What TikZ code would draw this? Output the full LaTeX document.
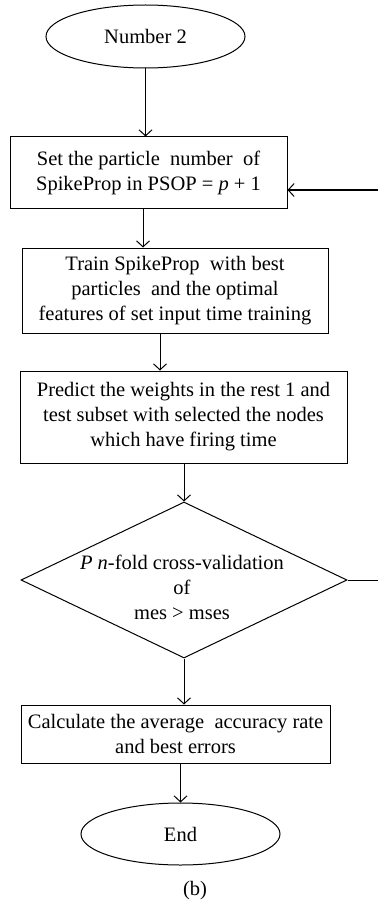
\documentclass[tikz,border=0pt]{standalone}
\usepackage{fontspec}
\setmainfont{Liberation Serif}
\usetikzlibrary{shapes.geometric,arrows.meta}
\begin{document}
\begin{tikzpicture}[x=1pt,y=-1pt,
  every node/.style={font=\fontsize{20.5}{25}\selectfont},
  box/.style={draw,line width=1pt,rectangle,inner sep=0pt,align=center},
  oval/.style={draw,line width=1pt,ellipse,inner sep=0pt},
  arr/.style={line width=1pt,-{Straight Barb[length=6pt,width=13pt]}},
  conn/.style={line width=1pt}]
\useasboundingbox (0,0) rectangle (378,904);
\node[oval,minimum width=199,minimum height=63] (start) at (145.5,36.5) {Number 2};
\node[box,minimum width=277,minimum height=71] (b1) at (148.5,172.5) {Set the particle\ \ number\ \ of\\SpikeProp in PSOP = \textit{p} + 1};
\node[box,minimum width=306,minimum height=85] (b2) at (175,290.5) {Train SpikeProp\ \ with best\\particles\ \ and the optimal\\features of set input time training};
\node[box,minimum width=327,minimum height=92] (b3) at (183.5,417) {Predict the weights in the rest 1 and\\test subset with selected the nodes\\which have firing time};
\node[draw,diamond,line width=1pt,minimum width=326,minimum height=156,inner sep=0pt] (dia) at (184,580) {};
\node[align=center] (dtext) at (182,587) {\textit{P n}-fold cross-validation\\of\\mes > mses};
\node[box,minimum width=309,minimum height=58] (b4) at (175.5,734) {Calculate the average\ \ accuracy rate\\and best errors};
\node[oval,minimum width=199,minimum height=62] (end) at (180.5,834) {End};
\node (cap) at (195,891) {(b)};
\coordinate (fbin) at (378,190);
\coordinate (fbout) at (378,580);
\draw[arr] (start.south) -- (start.south |- b1.north);
\draw[arr] ([xshift=-5.5pt]b1.south) -- ([xshift=-5.5pt]b1.south |- b2.north);
\draw[arr] ([xshift=-15pt]b2.south) -- ([xshift=-15pt]b2.south |- b3.north);
\draw[arr] (dia.north |- b3.south) -- (dia.north);
\draw[arr] (dia.south) -- (dia.south |- b4.north);
\draw[arr] (end.north |- b4.south) -- (end.north);
\draw[arr] (fbin) -- (fbin -| b1.east);
\draw[conn] (dia.east) -- (fbout);
\end{tikzpicture}
\end{document}
